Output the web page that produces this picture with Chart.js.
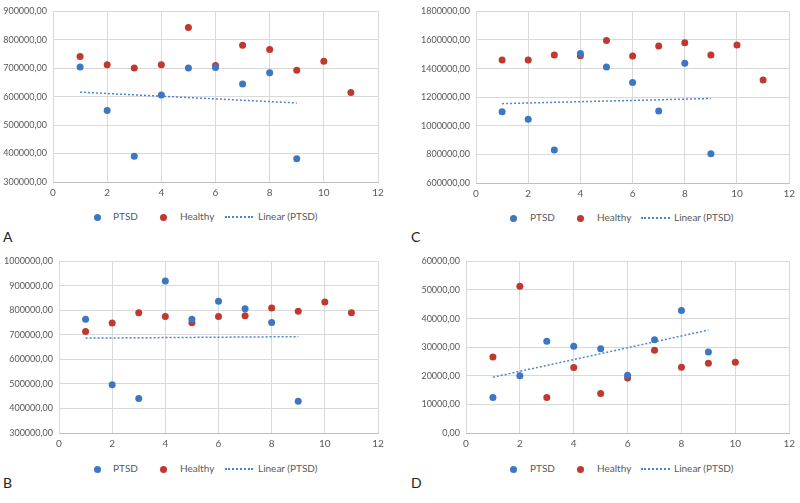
<!DOCTYPE html>
<html>
<head>
<meta charset="utf-8">
<script src="https://cdn.jsdelivr.net/npm/chart.js@4"></script>
<style>
    body { margin: 0; background: #fff; font-family: Lato, 'Open Sans', sans-serif; }
    #page { position: relative; width: 800px; height: 503px; overflow: hidden; }
    .panel { position: absolute; }
    .legend { position: absolute; font-size: 10px; color: #595959; white-space: nowrap; }
    .legend span { position: absolute; top: -7px; }
    .dot { position: absolute; width: 7px; height: 7px; border-radius: 50%; top: -3.5px; }
    .dash { position: absolute; top: -1px; height: 0; border-top: 2px dotted #4a86cf; }
    .letter { position: absolute; font-size: 14px; color: #222; }
</style>
</head>
<body>
<div id="page">
    <div class="panel" style="left:0;top:0;width:390px;height:200px"><canvas id="chartA"></canvas></div>
    <div class="panel" style="left:400px;top:0;width:400px;height:200px"><canvas id="chartC"></canvas></div>
    <div class="panel" style="left:0;top:250px;width:390px;height:200px"><canvas id="chartB"></canvas></div>
    <div class="panel" style="left:400px;top:250px;width:400px;height:200px"><canvas id="chartD"></canvas></div>
    <div class="letter" style="left:3px;top:228px">A</div>
    <div class="letter" style="left:411px;top:228px">C</div>
    <div class="letter" style="left:3px;top:474px">B</div>
    <div class="letter" style="left:411px;top:474px">D</div>
</div>
<script>
    const ptsdX = [1, 2, 3, 4, 5, 6, 7, 8, 9];
    const healthyX = [1, 2, 3, 4, 5, 6, 7, 8, 9, 10, 11];
    const healthyXD = [1, 2, 3, 4, 5, 6, 7, 8, 9, 10];
    const trendX = [1, 9];

    // A
    const ptsdA = [704500, 551700, 391000, 605600, 701000, 703000, 645000, 684000, 382000];
    const healthyA = [741600, 712000, 701000, 712000, 843000, 710000, 781000, 766000, 693000, 725000, 614600];
    const trendA = [616000, 578000];

    // B
    const ptsdB = [764000, 497000, 441000, 920000, 764000, 837000, 807000, 751000, 430000];
    const healthyB = [714000, 749000, 791000, 775000, 750000, 775000, 778000, 810000, 797000, 834000, 791000];
    const trendB = [687000, 693000];

    // C
    const ptsdC = [1098000, 1046000, 831000, 1506000, 1411000, 1302000, 1103000, 1438000, 804000];
    const healthyC = [1461000, 1461000, 1495000, 1490000, 1597000, 1488000, 1558000, 1581000, 1495000, 1565000, 1320000];
    const trendC = [1155000, 1191000];

    // D
    const ptsdD = [12450, 20000, 32050, 30350, 29450, 20150, 32600, 42800, 28300];
    const healthyD = [26600, 51300, 12450, 22900, 13800, 19250, 28900, 23000, 24350, 24700];
    const trendD = [19500, 36000];

    const blue = '#3b77c3';
    const red = '#c0392f';
    const trendColor = '#4a86cf';
    const gridColor = '#d9d9d9';
    const tickColor = '#595959';

    function toPoints(xs, ys) {
        return xs.map((x, i) => ({ x: x, y: ys[i] }));
    }

    function makeChart(id, opts) {
        const ctx = document.getElementById(id).getContext('2d');
        return new Chart(ctx, {
            type: 'scatter',
            data: {
                datasets: [
                    {
                        label: 'PTSD',
                        data: toPoints(ptsdX, opts.ptsd),
                        backgroundColor: blue,
                        borderColor: blue,
                        pointRadius: 3.5,
                        pointBorderWidth: 0
                    },
                    {
                        label: 'Healthy',
                        data: toPoints(opts.healthyX, opts.healthy),
                        backgroundColor: red,
                        borderColor: red,
                        pointRadius: 3.5,
                        pointBorderWidth: 0
                    },
                    {
                        type: 'line',
                        label: 'Linear (PTSD)',
                        data: toPoints(trendX, opts.trend),
                        borderColor: trendColor,
                        borderWidth: 1.5,
                        borderDash: [2, 2],
                        pointRadius: 0,
                        fill: false
                    }
                ]
            },
            options: {
                responsive: true,
                maintainAspectRatio: false,
                animation: false,
                layout: { padding: { top: opts.top, right: opts.right, left: 0, bottom: 0 } },
                plugins: { legend: { display: false }, tooltip: { enabled: false } },
                scales: {
                    x: {
                        type: 'linear',
                        min: 0,
                        max: 12,
                        ticks: { stepSize: 2, padding: 5, color: tickColor, font: { family: 'Lato', size: 10 } },
                        grid: { color: gridColor, drawTicks: false },
                        border: { color: '#bfbfbf' },
                        afterFit: s => { s.height = opts.xh; }
                    },
                    y: {
                        min: opts.min,
                        max: opts.max,
                        ticks: {
                            stepSize: opts.step,
                            padding: 6,
                            color: tickColor,
                            font: { family: 'Lato', size: 9 },
                            callback: v => v.toFixed(2).replace('.', ',')
                        },
                        grid: { color: gridColor, drawTicks: false },
                        border: { display: false },
                        afterFit: s => { s.width = opts.yw; }
                    }
                }
            }
        });
    }

    makeChart('chartA', { ptsd: ptsdA, healthy: healthyA, healthyX: healthyX, trend: trendA,
        min: 300000, max: 900000, step: 100000, top: 4, right: 12, xh: 18, yw: 53 });
    makeChart('chartC', { ptsd: ptsdC, healthy: healthyC, healthyX: healthyX, trend: trendC,
        min: 600000, max: 1800000, step: 200000, top: 7, right: 4, xh: 17, yw: 76 });
    makeChart('chartB', { ptsd: ptsdB, healthy: healthyB, healthyX: healthyX, trend: trendB,
        min: 300000, max: 1000000, step: 100000, top: 6, right: 12, xh: 17, yw: 59 });
    makeChart('chartD', { ptsd: ptsdD, healthy: healthyD, healthyX: healthyXD, trend: trendD,
        min: 0, max: 60000, step: 10000, top: 7, right: 5, xh: 17, yw: 66 });

    // legends
    function addLegend(left, top, offsets) {
        const page = document.getElementById('page');
        const el = document.createElement('div');
        el.className = 'legend';
        el.style.left = left + 'px';
        el.style.top = top + 'px';
        el.innerHTML =
            `<div class="dot" style="left:${offsets[0] - 3.5}px;background:${blue}"></div>` +
            `<span style="left:${offsets[1]}px">PTSD</span>` +
            `<div class="dot" style="left:${offsets[2] - 3.5}px;background:${red}"></div>` +
            `<span style="left:${offsets[3]}px">Healthy</span>` +
            `<div class="dash" style="left:${offsets[4]}px;width:${offsets[5]}px"></div>` +
            `<span style="left:${offsets[6]}px">Linear (PTSD)</span>`;
        page.appendChild(el);
    }
    addLegend(0, 217, [97, 113, 163, 180, 225, 28, 258]);
    addLegend(400, 218, [113, 130, 180, 197, 241, 29, 274]);
    addLegend(0, 469, [97, 113, 163, 180, 225, 28, 258]);
    addLegend(400, 469, [113, 130, 180, 197, 241, 29, 274]);
</script>
</body>
</html>
